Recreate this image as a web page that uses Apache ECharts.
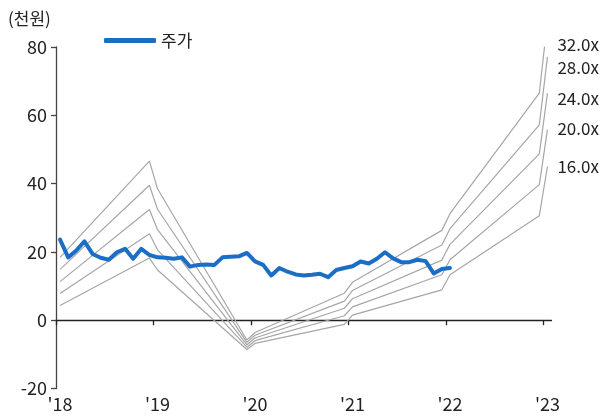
<!DOCTYPE html>
<html>
<head>
<meta charset="utf-8">
<script src="https://cdn.jsdelivr.net/npm/echarts@6/dist/echarts.min.js"></script>
<style>
  html, body { margin: 0; padding: 0; background: #fff; }
  #chart { width: 604px; height: 420px; }
</style>
</head>
<body>
<div id="chart"></div>
<script>
// Monthly time axis: Jan 2018 .. Jan 2023, one slot per month
const firstYear = 2018;
const monthCount = 61;
const yearLabels = ["'18", "'19", "'20", "'21", "'22", "'23"];

// Share price (thousand won), one value per month from 2018-01
const priceStart = '2018-01';
const price = [
  23.6, 18.4, 20.4, 23.1, 19.4, 18.3, 17.7, 19.9, 20.9, 18.0, 20.9, 19.1,
  18.4, 18.3, 18.0, 18.4, 15.7, 16.2, 16.3, 16.2, 18.4, 18.6, 18.7, 19.7,
  17.2, 16.2, 13.1, 15.3, 14.2, 13.4, 13.1, 13.3, 13.6, 12.6, 14.7, 15.3,
  15.8, 17.2, 16.6, 18.0, 19.9, 18.1, 17.0, 17.0, 17.7, 17.3, 13.7, 15.0,
  15.3
];

// PER band break points (month) and the band value at each
const bandMonths = ['2018-01', '2018-12', '2019-01', '2019-12', '2020-01', '2020-12',
                    '2021-01', '2021-12', '2022-01', '2022-12', '2023-01'];
const band32 = [18.4, 46.6, 38.5, -5.8, -3.6, 7.9, 11.1, 26.3, 31.2, 66.5, 87.8];
const band28 = [14.9, 39.5, 32.5, -6.5, -4.4, 5.6,  8.7, 22.0, 26.8, 57.2, 77.1];
const band24 = [11.3, 32.4, 26.5, -7.2, -5.2, 3.5,  6.3, 17.6, 22.2, 48.7, 66.5];
const band20 = [ 7.8, 25.3, 20.6, -7.9, -6.0, 1.3,  3.9, 13.3, 17.7, 39.7, 55.8];
const band16 = [ 4.3, 18.2, 14.7, -8.6, -6.8, -1.2, 1.5,  8.9, 13.3, 30.6, 45.0];
const bandNames = ['32.0x', '28.0x', '24.0x', '20.0x', '16.0x'];
const bandValues = [band32, band28, band24, band20, band16];

const yTicks = { min: -20, max: 80, step: 20 };

const FONT = 'Noto Sans CJK KR';
const INK = '#222';

function monthIndex(s) {
  const [y, m] = s.split('-').map(Number);
  return (y - firstYear) * 12 + (m - 1);
}
// each point sits in the middle of its month slot
function monthX(i) { return i + 0.5; }

const yearStarts = yearLabels.map((_, k) => k * 12);
const yearMids = yearStarts.map(v => v + 0.5);

const priceData = price.map((v, k) => [monthX(monthIndex(priceStart) + k), v]);

// label nudges so the band names do not collide at the right edge
const labelShift = [24, 11, 5, -1, 0];

const bandSeries = bandValues.map((vals, s) => ({
  name: bandNames[s],
  type: 'line',
  xAxisIndex: 0,
  data: bandMonths.map((m, k) => [monthX(monthIndex(m)), vals[k]]),
  symbol: 'none',
  silent: true,
  clip: true,
  lineStyle: { color: '#a6a6a6', width: 1.2 },
  endLabel: {
    show: true,
    formatter: bandNames[s],
    color: INK,
    fontSize: 17,
    fontFamily: FONT,
    distance: 0,
    offset: [10, labelShift[s]]
  },
  z: 2
}));

const chart = echarts.init(document.getElementById('chart'), null, { renderer: 'canvas' });
chart.setOption({
  animation: false,
  backgroundColor: '#fff',
  textStyle: { fontFamily: FONT },
  title: {
    text: '(천원)',
    left: 3,
    top: 5,
    textStyle: { fontSize: 17, fontWeight: 'normal', color: INK, fontFamily: FONT }
  },
  legend: {
    data: ['주가'],
    left: 104,
    top: 32,
    padding: 0,
    icon: 'roundRect',
    itemWidth: 52,
    itemHeight: 5,
    textStyle: { fontSize: 17, color: INK, fontFamily: FONT }
  },
  grid: { left: 56, right: 52.5, top: 47, bottom: 31.5, containLabel: false },
  xAxis: [
    {
      type: 'value',
      min: 0,
      max: monthCount,
      axisLine: { show: true, onZero: true, lineStyle: { color: INK, width: 1.3 } },
      axisTick: { show: true, customValues: yearStarts, length: 5, lineStyle: { color: INK, width: 1.3 } },
      axisLabel: { show: false },
      splitLine: { show: false }
    },
    {
      type: 'value',
      min: 0,
      max: monthCount,
      position: 'bottom',
      axisLine: { show: false, onZero: false },
      axisTick: { show: false },
      axisLabel: {
        show: true,
        customValues: yearMids,
        formatter: v => yearLabels[Math.round((v - 0.5) / 12)],
        fontSize: 18,
        color: INK,
        margin: 7,
        fontFamily: FONT
      },
      splitLine: { show: false }
    }
  ],
  yAxis: {
    type: 'value',
    min: yTicks.min,
    max: yTicks.max,
    interval: yTicks.step,
    axisLine: { show: true, lineStyle: { color: '#444', width: 1.3 } },
    axisTick: { show: true, length: 5, lineStyle: { color: '#444', width: 1.3 } },
    axisLabel: { fontSize: 18, color: INK, margin: 9, fontFamily: FONT },
    splitLine: { show: false }
  },
  series: bandSeries.concat([{
    name: '주가',
    type: 'line',
    xAxisIndex: 0,
    data: priceData,
    symbol: 'none',
    lineStyle: { color: '#1a6ec6', width: 4, cap: 'round', join: 'round' },
    itemStyle: { color: '#1a6ec6' },
    z: 5
  }])
});
</script>
</body>
</html>
